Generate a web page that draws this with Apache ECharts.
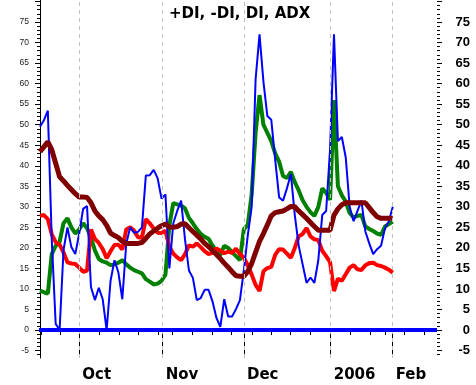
<!DOCTYPE html>
<html>
<head>
<meta charset="utf-8">
<script src="https://cdn.jsdelivr.net/npm/echarts@6/dist/echarts.min.js"></script>
<style>html,body{margin:0;padding:0;background:#fff;}#c{width:476px;height:385px;}</style>
</head>
<body>
<div id="c"></div>
<script>
// +DI (green), -DI (red), DX (blue), ADX (dark red); one value per bar
const plusDI = [9.6,9.2,8.9,18.5,20.5,21.5,26.0,27.2,25.0,23.5,24.5,26.0,24.8,22.5,19.4,17.3,16.7,16.4,15.8,16.0,16.4,17.0,16.0,15.2,14.6,14.2,13.8,12.4,11.8,11.1,11.3,12.0,13.5,25.5,30.9,30.6,30.3,29.6,27.3,26.0,24.6,23.4,22.7,22.2,20.6,19.1,18.3,20.5,20.0,19.0,18.0,17.0,24.5,25.6,33,48,57.2,50,48,46,43,41,37.5,37,38.5,36,34,31.6,30,28.7,27.8,30,34.5,33.4,31.7,56,35,32.8,31.3,28.5,27.4,27.8,28.0,25.2,24.6,24.1,23.5,23.2,25.2,25.8,26.4];
const minusDI = [27.8,28.0,27.0,23.3,21.4,20.8,18.9,16.5,16.2,16.1,15.2,14.2,14.5,24.5,22.2,21.2,19.7,17.5,19.2,20.7,20.8,19.6,24.5,25.0,24.2,22.6,22.5,27.0,26.0,24.7,23.7,23.6,24.2,20.3,18.6,17.7,17.0,18.5,20.6,20.3,21.1,20.2,19.2,18.5,18.8,19.9,19.3,18.7,19.1,18.8,19.8,18.5,17.6,15.8,13.5,11.0,9.5,14.3,15.1,15.4,18.3,19.7,19.6,18.6,17.6,20.0,22.8,23.4,24.8,22.8,22.1,21.9,19.3,18.0,16.5,9.5,12.5,12.0,13.6,15.2,15.8,14.8,14.6,15.8,16.3,16.4,15.8,15.6,15.2,14.7,14.0];
const dx = [49.5,51.1,53.4,22,1.5,0,19.5,25,20.2,18.5,23.5,29.5,30.2,10.5,7.3,10.3,7.5,0,12,17,14,7.5,21,25,23.7,23.9,25,37.6,37.7,39.0,37,32,33,15,26,29,31.5,22,14.5,12.7,7.3,7.8,9.8,9.8,7,3,0.8,7.5,3.3,3.3,5.1,7.3,14.5,23,30,61,72,60.5,52.1,51.2,41.5,32.3,31.5,34.5,38,28,20.5,16,11.5,12.8,11.5,17,28,29,44,72,46,47,42,30,26.5,29,31.5,24,21.1,18.5,19.7,20.5,24.8,26.5,30];
const adx = [43.4,44.6,45.8,43.9,40.6,37.3,36.3,35.2,34.2,33.2,32.4,32.4,32.3,31.0,29.0,27.8,26.9,25.5,23.6,23.0,22.5,21.6,21.1,21.1,21.1,21.1,21.3,22.3,23.4,24.1,24.8,25.4,25.8,25.1,25.0,25.2,25.8,25.9,24.9,24.0,23.1,22.2,21.1,20.3,19.4,18.4,17.4,16.3,15.3,14.2,13.2,13.1,13.1,14.3,16.2,18.9,21.6,23.5,25.6,27.8,28.6,28.8,29.0,29.5,30.1,30.0,29.0,28.1,27.2,26.2,25.2,24.3,24.3,24.3,24.3,28.0,29.5,30.5,31.0,31.0,31.0,31.0,31.0,31.0,29.8,28.6,27.6,27.2,27.2,27.2,27.2];

// x axis: month starts (bar-index units) and weekly minor ticks
const monthLabels = ['Oct','Nov','Dec','2006','Feb'];
const monthPos = [10.03,31.3,52.04,74.16,89.97];
const weekTicks = [0.33,5.28,15.13,20.23,25.18,30.1,33.85,38.95,43.88,48.8,54.08,59.0,63.95,69.06,79.08,84.18,88.09,93.04,97.96];
// y axis labels
const yLabels = [-5,0,5,10,15,20,25,30,35,40,45,50,55,60,65,70,75];
const yMinorTicks = [-6,-5,-4,-3,-2,-1,0,1,2,3,4,5,6,7,8,9,10,11,12,13,14,15,16,17,18,19,20,21,22,23,24,25,26,27,28,29,30,31,32,33,34,35,36,37,38,39,40,41,42,43,44,45,46,47,48,49,50,51,52,53,54,55,56,57,58,59,60,61,62,63,64,65,66,67,68,69,70,71,72,73,74,75,76,77,78,79,80];
const yMajorTicks = [-5,0,5,10,15,20,25,30,35,40,45,50,55,60,65,70,75,80];

const X_MIN = -0.255, X_MAX = 101.28, Y_MIN = -6.8, Y_MAX = 80.35;
const pts = arr => arr.map((v, i) => [i, v]);

const chart = echarts.init(document.getElementById('c'), null, {renderer: 'canvas'});
const boldFont = 'DejaVu Sans';
function yAx(pos, ticks, len, labels, label) {
  return {
    type: 'value', position: pos, min: Y_MIN, max: Y_MAX,
    axisLine: {show: pos === 'left' && !labels, lineStyle: {color: '#000', width: 1}},
    splitLine: {show: false},
    axisTick: {show: true, customValues: ticks, length: len, lineStyle: {color: '#000'}},
    axisLabel: labels ? Object.assign({show: true, customValues: labels}, label) : {show: false}
  };
}
chart.setOption({
  animation: false,
  backgroundColor: '#fff',
  title: {
    text: '+DI, -DI, DI, ADX', left: 164, top: 2,
    textStyle: {fontFamily: boldFont, fontWeight: 'bold', fontSize: 15, color: '#000'}
  },
  grid: {left: 39, right: 39, top: 0, bottom: 27, containLabel: false},
  xAxis: [
    {
      type: 'value', min: X_MIN, max: X_MAX, position: 'bottom', offset: 3,
      axisLine: {show: false}, splitLine: {show: false},
      axisTick: {show: true, customValues: weekTicks, length: 5, lineStyle: {color: '#000'}},
      axisLabel: {show: false}
    },
    {
      type: 'value', min: X_MIN, max: X_MAX, position: 'bottom', offset: 3,
      axisLine: {show: false}, splitLine: {show: false},
      axisTick: {show: true, customValues: monthPos, length: 24, lineStyle: {color: '#000'}},
      axisLabel: {
        show: true, customValues: monthPos, align: 'left', margin: 7, padding: [0, 0, 0, 3],
        fontFamily: boldFont, fontWeight: 'bold', fontSize: 15, color: '#000',
        formatter: v => { const k = monthPos.indexOf(v); return k >= 0 ? monthLabels[k] : ''; }
      }
    }
  ],
  yAxis: [
    yAx('left', yMinorTicks, 3, null),
    yAx('left', yMajorTicks, 5, yLabels, {margin: 10, fontFamily: 'Liberation Sans', fontSize: 8.5, color: '#222'}),
    yAx('right', yMinorTicks, 3, null),
    yAx('right', yMajorTicks, 5, yLabels, {margin: 33, align: 'right', fontFamily: 'Liberation Sans', fontWeight: 'bold', fontSize: 13, color: '#000'})
  ],
  series: [
    {
      name: '+DI', type: 'line', data: pts(plusDI), showSymbol: false,
      lineStyle: {color: '#008000', width: 4}, itemStyle: {color: '#008000'},
      markLine: {
        silent: true, symbol: 'none', label: {show: false},
        data: monthPos.map(p => ({xAxis: p, lineStyle: {color: '#c0c0c0', width: 1, type: [4, 4]}}))
          .concat([{yAxis: 0, lineStyle: {color: '#0000ff', width: 4, type: 'solid'}}])
      }
    },
    {name: '-DI', type: 'line', data: pts(minusDI), showSymbol: false, lineStyle: {color: '#ff0000', width: 4}},
    {name: 'DI', type: 'line', data: pts(dx), showSymbol: false, lineStyle: {color: '#0000ff', width: 2}},
    {name: 'ADX', type: 'line', data: pts(adx), showSymbol: false, lineStyle: {color: '#800000', width: 5}}
  ]
});
</script>
</body>
</html>
